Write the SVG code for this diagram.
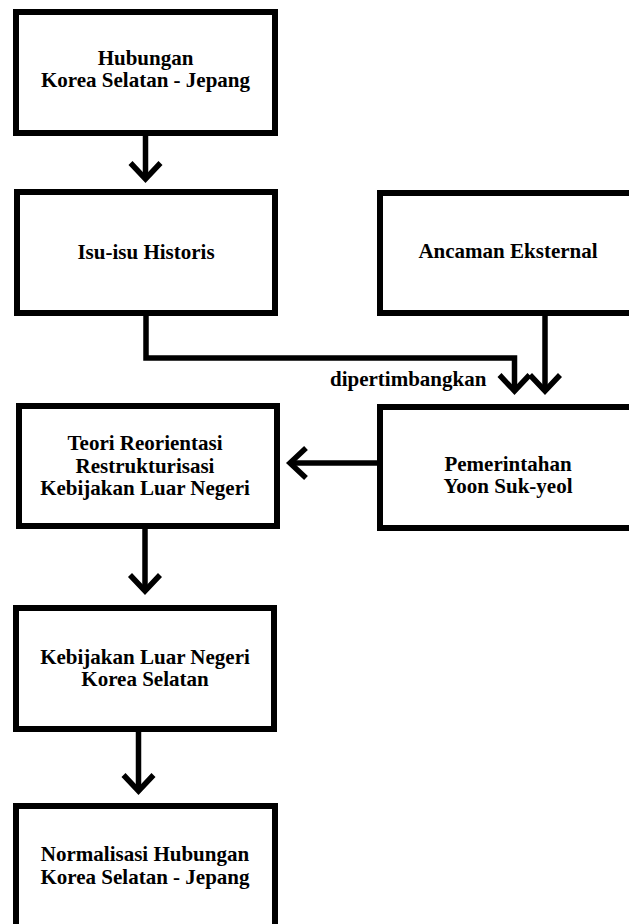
<svg xmlns="http://www.w3.org/2000/svg" width="629" height="924" viewBox="0 0 629 924">
<style>
.box{fill:#fff;stroke:#000;stroke-width:6}
.lbl{font-family:"Liberation Serif","Times New Roman",serif;font-weight:bold;font-size:21px;fill:#000;text-anchor:middle}
.edge{fill:none;stroke:#000;stroke-width:5.5;stroke-linejoin:miter}
</style>
<defs>
<marker id="chev" markerUnits="userSpaceOnUse" markerWidth="40" markerHeight="40" refX="0" refY="0" orient="auto" overflow="visible">
<path d="M -16 -15 L 0 0 L -16 15" fill="none" stroke="#000" stroke-width="5.5"/>
</marker>
</defs>
<rect width="629" height="924" fill="#fff"/>
<g id="connectors">
<path class="edge" d="M 145.5 136 V 179" marker-end="url(#chev)"/>
<path class="edge" d="M 146 316 V 358 H 514.5 V 391" marker-end="url(#chev)"/>
<path class="edge" d="M 545 316 V 391" marker-end="url(#chev)"/>
<path class="edge" d="M 377 463 H 290" marker-end="url(#chev)"/>
<path class="edge" d="M 145 529 V 591" marker-end="url(#chev)"/>
<path class="edge" d="M 138.5 732 V 791" marker-end="url(#chev)"/>
<text class="lbl" x="330" y="386" style="text-anchor:start">dipertimbangkan</text>
</g>
<g id="n1">
<rect class="box" x="16" y="12" width="259" height="121"/>
<text class="lbl" x="145.5" y="64.5">Hubungan</text>
<text class="lbl" x="145.5" y="86.5">Korea Selatan - Jepang</text>
</g>
<g id="n2">
<rect class="box" x="17" y="192" width="258" height="121"/>
<text class="lbl" x="146" y="259">Isu-isu Historis</text>
</g>
<g id="n3">
<rect class="box" x="380" y="193" width="260" height="120"/>
<text class="lbl" x="508" y="258">Ancaman Eksternal</text>
</g>
<g id="n4">
<rect class="box" x="380" y="407" width="260" height="121"/>
<text class="lbl" x="508" y="471">Pemerintahan</text>
<text class="lbl" x="508" y="493">Yoon Suk-yeol</text>
</g>
<g id="n5">
<rect class="box" x="19" y="406" width="258" height="120"/>
<text class="lbl" x="145" y="450">Teori Reorientasi</text>
<text class="lbl" x="145" y="472.5">Restrukturisasi</text>
<text class="lbl" x="145" y="495">Kebijakan Luar Negeri</text>
</g>
<g id="n6">
<rect class="box" x="16" y="608" width="258" height="121"/>
<text class="lbl" x="145" y="664">Kebijakan Luar Negeri</text>
<text class="lbl" x="145" y="686">Korea Selatan</text>
</g>
<g id="n7">
<rect class="box" x="16" y="806" width="259" height="130"/>
<text class="lbl" x="145" y="861">Normalisasi Hubungan</text>
<text class="lbl" x="145" y="884">Korea Selatan - Jepang</text>
</g>
</svg>
